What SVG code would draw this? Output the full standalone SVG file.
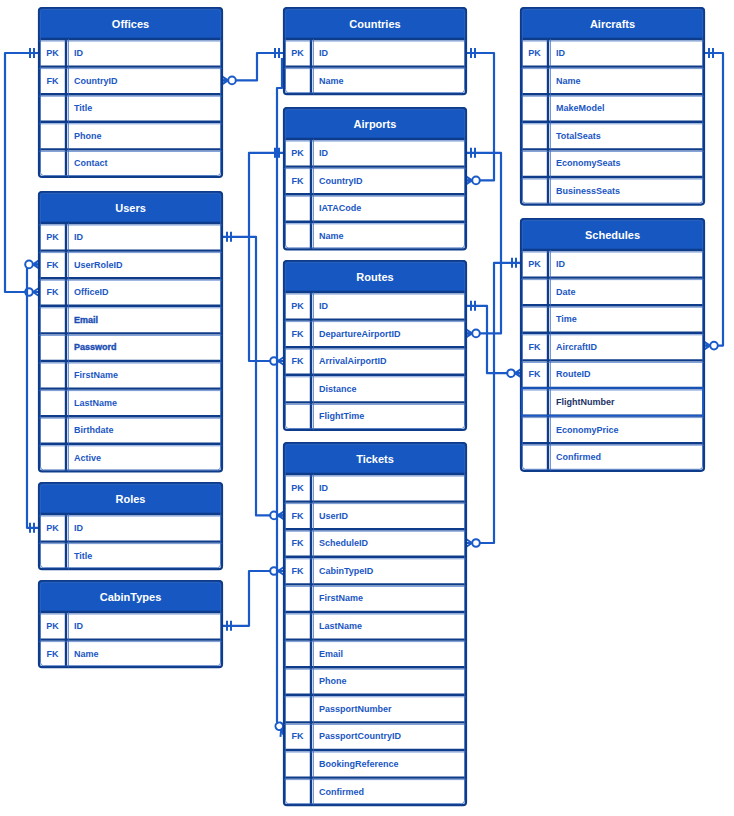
<svg xmlns="http://www.w3.org/2000/svg" width="734" height="816" viewBox="0 0 734 816">
<defs>
<style>
.body{fill:#fff;stroke:#0f3c8a;stroke-width:2.2}
.hdr{fill:#1657c1;stroke:#0f3c8a;stroke-width:1.5}
.edge{fill:none;stroke:#2f62b8;stroke-width:1;opacity:.8}
.sep{fill:none;stroke:#0f3c8a;stroke-width:2.4}
.sep2{fill:none;stroke:#3a6cc0;stroke-width:1;opacity:.7}
.ttl{font-family:"Liberation Sans",Arial,sans-serif;font-weight:bold;font-size:11px;fill:#fff;text-anchor:middle}
.f{font-family:"Liberation Sans",Arial,sans-serif;font-weight:bold;font-size:9px;fill:#1a56c4}
.k{font-family:"Liberation Sans",Arial,sans-serif;font-weight:bold;font-size:9px;fill:#1a56c4;text-anchor:middle}
.dk{fill:#1b3166}
.bl{fill:#1a4db3;stroke:#1a4db3;stroke-width:.35}
.conn path{fill:none;stroke:#1a5ac8;stroke-width:2.2;stroke-linejoin:round}
</style>
<marker id="one" viewBox="-14 -7 16 14" refX="0" refY="0" markerWidth="16" markerHeight="14" markerUnits="userSpaceOnUse" orient="auto-start-reverse">
<path d="M-5 -5V5M-9 -5V5" stroke="#1a5ac8" stroke-width="2" fill="none"/>
</marker>
<marker id="zm" viewBox="-16 -7 18 14" refX="0" refY="0" markerWidth="18" markerHeight="14" markerUnits="userSpaceOnUse" orient="auto-start-reverse">
<path d="M-6 0L0 -4M-6 0L0 4M-6 0H0" stroke="#1a5ac8" stroke-width="2" fill="none"/>
<circle cx="-10" cy="0" r="3.8" fill="#fff" stroke="#1a5ac8" stroke-width="2"/>
</marker>
</defs>

<g class="conn" id="connectors">
<path d="M222 80.4H257V53H284" marker-start="url(#zm)" marker-end="url(#one)"/>
<path d="M39 292H5V53H39" marker-start="url(#zm)" marker-end="url(#one)"/>
<path d="M39 264.4H27V527.8H39" marker-start="url(#zm)" marker-end="url(#one)"/>
<path d="M466 53H494V180.4H466" marker-start="url(#one)" marker-end="url(#zm)"/>
<path d="M466 152.8H501V333.4H466" marker-start="url(#one)" marker-end="url(#zm)"/>
<path d="M284 152.8H249V361H284" marker-start="url(#one)" marker-end="url(#zm)"/>
<path d="M222 236.8H256V515.4H284" marker-start="url(#one)" marker-end="url(#zm)"/>
<path d="M222 625.8H249V571H284" marker-start="url(#one)" marker-end="url(#zm)"/>
<path d="M282 58V88H277V722L284 735" marker-end="url(#zm)"/>
<path d="M466 543H494V262.8H521" marker-start="url(#zm)" marker-end="url(#one)"/>
<path d="M521 373.2H487V305.8H466" marker-start="url(#zm)" marker-end="url(#one)"/>
<path d="M704 345.6H723V53H704" marker-start="url(#zm)" marker-end="url(#one)"/>
</g>

<g id="offices" transform="translate(39,8)">
<rect class="body" width="183" height="169" rx="3"/>
<rect class="hdr" width="183" height="31" rx="3"/>
<path class="sep" d="M0 31H183M0 58.6H183M0 86.2H183M0 113.8H183M0 141.4H183M27 31V169"/>
<path class="sep2" d="M0 33H183M0 60.6H183M0 88.2H183M0 115.8H183M0 143.4H183M29.5 31V169"/>
<rect class="edge" x="1.5" y="1.5" width="180" height="166" rx="3"/>
<text class="ttl" x="91.5" y="19.5">Offices</text>
<text class="k" x="13.5" y="48">PK</text><text class="f" x="35" y="48">ID</text>
<text class="k" x="13.5" y="75.6">FK</text><text class="f" x="35" y="75.6">CountryID</text>
<text class="f" x="35" y="103.2">Title</text>
<text class="f" x="35" y="130.8">Phone</text>
<text class="f" x="35" y="158.4">Contact</text>
</g>

<g id="countries" transform="translate(284,8)">
<rect class="body" width="182" height="86.2" rx="3"/>
<rect class="hdr" width="182" height="31" rx="3"/>
<path class="sep" d="M0 31H182M0 58.6H182M27 31V86.2"/>
<path class="sep2" d="M0 33H182M0 60.6H182M29.5 31V86.2"/>
<rect class="edge" x="1.5" y="1.5" width="179" height="83.2" rx="3"/>
<text class="ttl" x="91" y="19.5">Countries</text>
<text class="k" x="13.5" y="48">PK</text><text class="f" x="35" y="48">ID</text>
<text class="f" x="35" y="75.6">Name</text>
</g>

<g id="aircrafts" transform="translate(521,8)">
<rect class="body" width="183" height="196.6" rx="3"/>
<rect class="hdr" width="183" height="31" rx="3"/>
<path class="sep" d="M0 31H183M0 58.6H183M0 86.2H183M0 113.8H183M0 141.4H183M0 169H183M27 31V196.6"/>
<path class="sep2" d="M0 33H183M0 60.6H183M0 88.2H183M0 115.8H183M0 143.4H183M0 171H183M29.5 31V196.6"/>
<rect class="edge" x="1.5" y="1.5" width="180" height="193.6" rx="3"/>
<text class="ttl" x="91.5" y="19.5">Aircrafts</text>
<text class="k" x="13.5" y="48">PK</text><text class="f" x="35" y="48">ID</text>
<text class="f" x="35" y="75.6">Name</text>
<text class="f" x="35" y="103.2">MakeModel</text>
<text class="f" x="35" y="130.8">TotalSeats</text>
<text class="f" x="35" y="158.4">EconomySeats</text>
<text class="f" x="35" y="186">BusinessSeats</text>
</g>

<g id="airports" transform="translate(284,108)">
<rect class="body" width="182" height="141.4" rx="3"/>
<rect class="hdr" width="182" height="31" rx="3"/>
<path class="sep" d="M0 31H182M0 58.6H182M0 86.2H182M0 113.8H182M27 31V141.4"/>
<path class="sep2" d="M0 33H182M0 60.6H182M0 88.2H182M0 115.8H182M29.5 31V141.4"/>
<rect class="edge" x="1.5" y="1.5" width="179" height="138.4" rx="3"/>
<text class="ttl" x="91" y="19.5">Airports</text>
<text class="k" x="13.5" y="48">PK</text><text class="f" x="35" y="48">ID</text>
<text class="k" x="13.5" y="75.6">FK</text><text class="f" x="35" y="75.6">CountryID</text>
<text class="f" x="35" y="103.2">IATACode</text>
<text class="f" x="35" y="130.8">Name</text>
</g>

<g id="users" transform="translate(39,192)">
<rect class="body" width="183" height="279.4" rx="3"/>
<rect class="hdr" width="183" height="31" rx="3"/>
<path class="sep" d="M0 31H183M0 58.6H183M0 86.2H183M0 113.8H183M0 141.4H183M0 169H183M0 196.6H183M0 224.2H183M0 251.8H183M27 31V279.4"/>
<path class="sep2" d="M0 33H183M0 60.6H183M0 88.2H183M0 115.8H183M0 143.4H183M0 171H183M0 198.6H183M0 226.2H183M0 253.8H183M29.5 31V279.4"/>
<rect class="edge" x="1.5" y="1.5" width="180" height="276.4" rx="3"/>
<text class="ttl" x="91.5" y="19.5">Users</text>
<text class="k" x="13.5" y="48">PK</text><text class="f" x="35" y="48">ID</text>
<text class="k" x="13.5" y="75.6">FK</text><text class="f" x="35" y="75.6">UserRoleID</text>
<text class="k" x="13.5" y="103.2">FK</text><text class="f" x="35" y="103.2">OfficeID</text>
<text class="f bl" x="35" y="130.8">Email</text>
<text class="f bl" x="35" y="158.4">Password</text>
<text class="f" x="35" y="186">FirstName</text>
<text class="f" x="35" y="213.6">LastName</text>
<text class="f" x="35" y="241.2">Birthdate</text>
<text class="f" x="35" y="268.8">Active</text>
</g>

<g id="schedules" transform="translate(521,219)">
<rect class="body" width="183" height="251.8" rx="3"/>
<rect class="hdr" width="183" height="31" rx="3"/>
<path class="sep" d="M0 31H183M0 58.6H183M0 86.2H183M0 113.8H183M0 141.4H183M0 169H183M0 196.6H183M0 224.2H183M27 31V251.8"/>
<path class="sep2" d="M0 33H183M0 60.6H183M0 88.2H183M0 115.8H183M0 143.4H183M0 171H183M0 198.6H183M0 226.2H183M29.5 31V251.8"/>
<rect class="edge" x="1.5" y="1.5" width="180" height="248.8" rx="3"/>
<rect x="1" y="169" width="181" height="27.6" fill="none" stroke="#1a5ac8" stroke-width="1.5"/>
<text class="ttl" x="91.5" y="19.5">Schedules</text>
<text class="k" x="13.5" y="48">PK</text><text class="f" x="35" y="48">ID</text>
<text class="f" x="35" y="75.6">Date</text>
<text class="f" x="35" y="103.2">Time</text>
<text class="k" x="13.5" y="130.8">FK</text><text class="f" x="35" y="130.8">AircraftID</text>
<text class="k" x="13.5" y="158.4">FK</text><text class="f" x="35" y="158.4">RouteID</text>
<text class="f dk" x="35" y="186">FlightNumber</text>
<text class="f" x="35" y="213.6">EconomyPrice</text>
<text class="f" x="35" y="241.2">Confirmed</text>
</g>

<g id="routes" transform="translate(284,261)">
<rect class="body" width="182" height="169" rx="3"/>
<rect class="hdr" width="182" height="31" rx="3"/>
<path class="sep" d="M0 31H182M0 58.6H182M0 86.2H182M0 113.8H182M0 141.4H182M27 31V169"/>
<path class="sep2" d="M0 33H182M0 60.6H182M0 88.2H182M0 115.8H182M0 143.4H182M29.5 31V169"/>
<rect class="edge" x="1.5" y="1.5" width="179" height="166" rx="3"/>
<text class="ttl" x="91" y="19.5">Routes</text>
<text class="k" x="13.5" y="48">PK</text><text class="f" x="35" y="48">ID</text>
<text class="k" x="13.5" y="75.6">FK</text><text class="f" x="35" y="75.6">DepartureAirportID</text>
<text class="k" x="13.5" y="103.2">FK</text><text class="f" x="35" y="103.2">ArrivalAirportID</text>
<text class="f" x="35" y="130.8">Distance</text>
<text class="f" x="35" y="158.4">FlightTime</text>
</g>

<g id="roles" transform="translate(39,483)">
<rect class="body" width="183" height="86.2" rx="3"/>
<rect class="hdr" width="183" height="31" rx="3"/>
<path class="sep" d="M0 31H183M0 58.6H183M27 31V86.2"/>
<path class="sep2" d="M0 33H183M0 60.6H183M29.5 31V86.2"/>
<rect class="edge" x="1.5" y="1.5" width="180" height="83.2" rx="3"/>
<text class="ttl" x="91.5" y="19.5">Roles</text>
<text class="k" x="13.5" y="48">PK</text><text class="f" x="35" y="48">ID</text>
<text class="f" x="35" y="75.6">Title</text>
</g>

<g id="cabintypes" transform="translate(39,581)">
<rect class="body" width="183" height="86.2" rx="3"/>
<rect class="hdr" width="183" height="31" rx="3"/>
<path class="sep" d="M0 31H183M0 58.6H183M27 31V86.2"/>
<path class="sep2" d="M0 33H183M0 60.6H183M29.5 31V86.2"/>
<rect class="edge" x="1.5" y="1.5" width="180" height="83.2" rx="3"/>
<text class="ttl" x="91.5" y="19.5">CabinTypes</text>
<text class="k" x="13.5" y="48">PK</text><text class="f" x="35" y="48">ID</text>
<text class="k" x="13.5" y="75.6">FK</text><text class="f" x="35" y="75.6">Name</text>
</g>

<g id="tickets" transform="translate(284,443)">
<rect class="body" width="182" height="362.2" rx="3"/>
<rect class="hdr" width="182" height="31" rx="3"/>
<path class="sep" d="M0 31H182M0 58.6H182M0 86.2H182M0 113.8H182M0 141.4H182M0 169H182M0 196.6H182M0 224.2H182M0 251.8H182M0 279.4H182M0 307H182M0 334.6H182M27 31V362.2"/>
<path class="sep2" d="M0 33H182M0 60.6H182M0 88.2H182M0 115.8H182M0 143.4H182M0 171H182M0 198.6H182M0 226.2H182M0 253.8H182M0 281.4H182M0 309H182M0 336.6H182M29.5 31V362.2"/>
<rect class="edge" x="1.5" y="1.5" width="179" height="359.2" rx="3"/>
<text class="ttl" x="91" y="19.5">Tickets</text>
<text class="k" x="13.5" y="48">PK</text><text class="f" x="35" y="48">ID</text>
<text class="k" x="13.5" y="75.6">FK</text><text class="f" x="35" y="75.6">UserID</text>
<text class="k" x="13.5" y="103.2">FK</text><text class="f" x="35" y="103.2">ScheduleID</text>
<text class="k" x="13.5" y="130.8">FK</text><text class="f" x="35" y="130.8">CabinTypeID</text>
<text class="f" x="35" y="158.4">FirstName</text>
<text class="f" x="35" y="186">LastName</text>
<text class="f" x="35" y="213.6">Email</text>
<text class="f" x="35" y="241.2">Phone</text>
<text class="f" x="35" y="268.8">PassportNumber</text>
<text class="k" x="13.5" y="296.4">FK</text><text class="f" x="35" y="296.4">PassportCountryID</text>
<text class="f" x="35" y="324">BookingReference</text>
<text class="f" x="35" y="351.6">Confirmed</text>
</g>
</svg>
